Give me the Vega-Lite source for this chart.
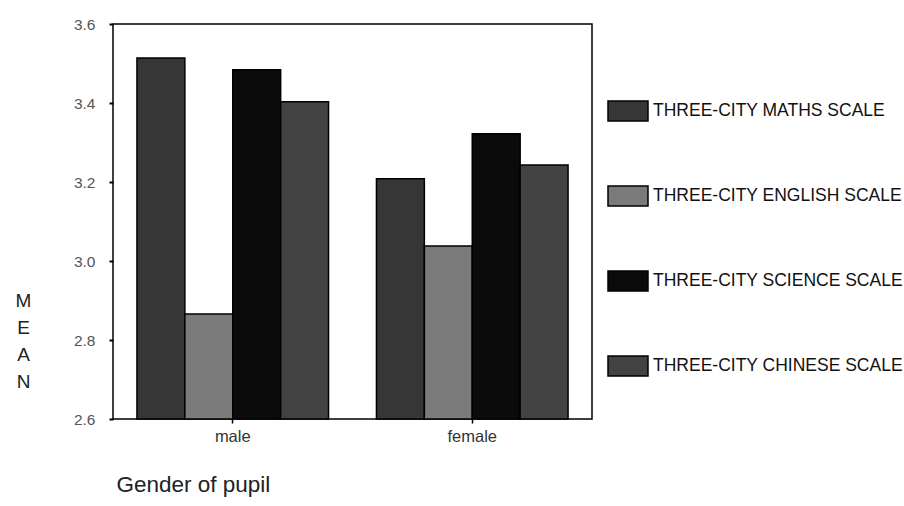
{
  "$schema": "https://vega.github.io/schema/vega-lite/v6.json",
  "width": 479,
  "height": 395,
  "autosize": {"type": "none"},
  "padding": {"left": 113, "top": 24, "right": 312, "bottom": 87},
  "background": "white",
  "config": {
    "font": "Liberation Sans",
    "view": {"stroke": "black", "strokeWidth": 1.5},
    "axis": {"grid": false, "domain": false}
  },
  "data": {
    "values": [
      {"gender": "male", "scale": "THREE-CITY MATHS SCALE", "mean": 3.514},
      {"gender": "male", "scale": "THREE-CITY ENGLISH SCALE", "mean": 2.866},
      {"gender": "male", "scale": "THREE-CITY SCIENCE SCALE", "mean": 3.484},
      {"gender": "male", "scale": "THREE-CITY CHINESE SCALE", "mean": 3.403},
      {"gender": "female", "scale": "THREE-CITY MATHS SCALE", "mean": 3.208},
      {"gender": "female", "scale": "THREE-CITY ENGLISH SCALE", "mean": 3.038},
      {"gender": "female", "scale": "THREE-CITY SCIENCE SCALE", "mean": 3.322},
      {"gender": "female", "scale": "THREE-CITY CHINESE SCALE", "mean": 3.243}
    ]
  },
  "mark": {"type": "bar", "stroke": "black", "strokeWidth": 1.5},
  "encoding": {
    "x": {
      "field": "gender",
      "type": "nominal",
      "sort": ["male", "female"],
      "scale": {"paddingInner": 0.2, "paddingOuter": 0.1},
      "axis": {
        "title": "Gender of pupil",
        "titleFontSize": 22.5,
        "titleFontWeight": "normal",
        "titleColor": "#222",
        "titleAnchor": "start",
        "titleAlign": "left",
        "titleBaseline": "alphabetic",
        "titleX": 3,
        "titleY": 72,
        "labelAngle": 0,
        "labelFontSize": 16.5,
        "labelColor": "#333",
        "labelPadding": 5,
        "tickSize": 4,
        "tickColor": "black",
        "tickWidth": 1.5
      }
    },
    "xOffset": {
      "field": "scale",
      "type": "nominal",
      "sort": ["THREE-CITY MATHS SCALE", "THREE-CITY ENGLISH SCALE", "THREE-CITY SCIENCE SCALE", "THREE-CITY CHINESE SCALE"],
      "scale": {"paddingInner": 0, "paddingOuter": 0}
    },
    "y": {
      "field": "mean",
      "type": "quantitative",
      "scale": {"domain": [2.6, 3.6], "zero": false, "nice": false},
      "axis": {
        "values": [2.6, 2.8, 3.0, 3.2, 3.4, 3.6],
        "format": ".1f",
        "title": ["M", "E", "A", "N"],
        "titleAngle": 0,
        "titleFontSize": 19,
        "titleFontWeight": "normal",
        "titleColor": "#222",
        "titleLineHeight": 27,
        "titleAlign": "center",
        "titleBaseline": "middle",
        "titleX": -90,
        "titleY": 276,
        "labelFontSize": 15.5,
        "labelColor": "#555",
        "labelPadding": 14,
        "tickSize": 4,
        "tickColor": "black",
        "tickWidth": 2
      }
    },
    "y2": {"datum": 2.6},
    "color": {
      "field": "scale",
      "type": "nominal",
      "scale": {
        "domain": ["THREE-CITY MATHS SCALE", "THREE-CITY ENGLISH SCALE", "THREE-CITY SCIENCE SCALE", "THREE-CITY CHINESE SCALE"],
        "range": ["#363636", "#7b7b7b", "#0b0b0b", "#434343"]
      },
      "legend": {
        "title": null,
        "orient": "none",
        "legendX": 494,
        "legendY": 66,
        "symbolType": "M-1,-0.5H1V0.5H-1Z",
        "symbolSize": 1600,
        "symbolStrokeColor": "black",
        "symbolStrokeWidth": 1.5,
        "symbolOpacity": 1,
        "labelFontSize": 17.5,
        "labelColor": "#111",
        "labelOffset": 4,
        "labelLimit": 400,
        "rowPadding": 51
      }
    }
  }
}
